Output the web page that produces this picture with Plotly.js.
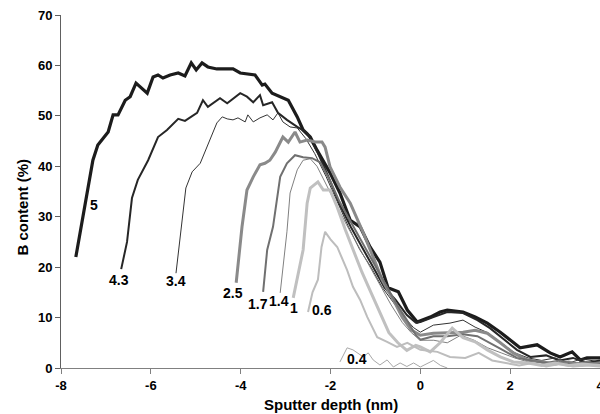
<!DOCTYPE html>
<html><head><meta charset="utf-8">
<script src="https://cdn.plot.ly/plotly-3.0.1.min.js"></script>
<style>html,body{margin:0;padding:0;background:#fff;}#chart{width:600px;height:414px;}</style>
</head><body><div id="chart"></div>
<script>
const labels = ["5","4.3","3.4","2.5","1.7","1.4","1","0.6","0.4"];

const x5 = [-7.67,-7.4,-7.29,-7.18,-6.95,-6.84,-6.73,-6.57,-6.46,-6.33,-6.08,-5.95,-5.84,-5.73,-5.57,-5.39,-5.24,-5.1,-4.99,-4.86,-4.73,-4.53,-4.17,-4.01,-3.68,-3.52,-3.46,-3.3,-3.12,-2.94,-2.74,-2.61,-2.45,-2.3,-2.01,-1.79,-1.56,-1.34,-1.12,-0.9,-0.72,-0.49,-0.29,-0.07,0.22,0.44,0.6,0.95,1.22,1.49,1.78,2.0,2.22,2.6,2.89,3.11,3.38,3.56,3.71,4.0];
const y5 = [22,36,41.2,44.2,46.8,50.2,50.2,53.1,53.8,56.5,54.5,57.7,58.1,57.5,58.1,58.5,57.9,60.5,59.1,60.5,59.7,59.3,59.3,58.5,58.1,56.1,56.3,54.5,53.8,53.1,49.8,47.2,45.8,43.2,38.7,34.7,29.3,28,24,21,15.9,15.1,11.5,9.1,10.1,11.1,11.5,11.1,10.1,8.9,7.1,5.6,4.0,4.6,3.0,2.2,3.2,1.6,2.0,2.0];

const x43 = [-6.66,-6.53,-6.42,-6.29,-6.06,-5.84,-5.64,-5.39,-5.24,-4.97,-4.84,-4.73,-4.46,-4.3,-4.01,-3.86,-3.72,-3.57,-3.5,-3.3,-3.17,-2.97,-2.74,-2.52,-2.3,-2.05,-1.8,-1.55,-1.3,-1.05,-0.8,-0.55,-0.3,-0.1,0.0,0.29,0.6,0.95,1.27,1.55,1.84,2.15,2.45,2.8,3.1,3.4,3.7,4.0];
const y43 = [19.6,25,33.7,37.3,41.2,45.8,47.2,49.4,49.0,50.6,53.1,51.8,53.5,52.5,54.5,53.8,52.7,54.1,52.1,52.7,50.6,49.2,47.8,46.6,43,38,32.5,28,24,20,16,13.5,10.5,9,9.1,10.1,11.1,10.9,9.5,7.9,5.9,3.6,2.2,2.5,1.5,2.0,1.0,1.5];

const x34 = [-5.44,-5.22,-5.08,-4.9,-4.53,-4.41,-4.3,-4.17,-4.06,-3.9,-3.84,-3.72,-3.57,-3.41,-3.28,-3.17,-3.06,-2.9,-2.74,-2.55,-2.35,-2.1,-1.85,-1.6,-1.35,-1.1,-0.85,-0.6,-0.35,-0.15,0.0,0.29,0.66,0.95,1.22,1.5,1.8,2.1,2.4,2.7,3.0,3.3,3.6,4.0];
const y34 = [18.8,35.7,38.9,40.6,48.6,49.8,49.4,49.2,49.6,48.8,50.2,48.8,49.6,50.2,49.2,50.6,48.8,47.8,47.6,45.5,42.5,38,33,28,23.5,20,16,13,10,8,7.1,8.5,8.9,9.5,8.1,7,5,3,2,1.5,2.0,1.0,1.8,1.2];

const x25 = [-4.1,-3.97,-3.86,-3.72,-3.57,-3.46,-3.35,-3.23,-3.06,-2.94,-2.79,-2.68,-2.52,-2.34,-2.19,-2.12,-2.01,-1.79,-1.56,-1.39,-1.27,-1.05,-0.85,-0.6,-0.4,-0.2,0.0,0.29,0.6,0.95,1.22,1.49,1.78,2.07,2.38,2.7,3.0,3.3,3.6,4.0];
const y25 = [16.9,28,35.3,37.9,40.3,40.6,41.2,42.8,45.8,44.8,46.8,44.8,45.2,44.8,44.8,43.8,39.9,35.9,32.7,29.3,26.8,22,17.5,13.5,10,7.5,6.5,6.9,7.0,7.1,7.5,6.9,5.0,3.0,1.6,1.2,0.8,1.2,0.6,1.0];

const x17 = [-3.5,-3.41,-3.28,-3.23,-3.12,-2.97,-2.79,-2.61,-2.41,-2.23,-2.0,-1.8,-1.55,-1.3,-1.05,-0.8,-0.55,-0.3,-0.1,0.0,0.29,0.6,0.95,1.27,1.55,1.85,2.15,2.5,2.8,3.1,3.4,3.7,4.0];
const y17 = [15.1,23.4,28,31.3,37.9,40.6,42.2,41.8,41.6,40.8,37,33,29,25,21,17,13,9.5,6.5,5.6,6.3,6.3,6.7,6.3,5,3.5,2,1.5,1.0,1.5,0.8,1.2,0.8];

const x14 = [-3.12,-3.01,-2.97,-2.9,-2.74,-2.61,-2.45,-2.3,-2.1,-1.9,-1.65,-1.4,-1.15,-0.9,-0.65,-0.4,-0.2,0.0,0.3,0.6,0.9,1.2,1.5,1.8,2.1,2.4,2.7,3.0,3.3,3.6,4.0];
const y14 = [14.9,23.4,27,34.7,39.3,41.2,41.5,40,36.5,33,28.5,24.5,20.5,16.5,12.5,9,7.0,5.5,5.5,5.0,6.5,5.5,4.0,3.0,2.0,1.2,1.5,0.8,1.2,0.5,1.0];

const x1 = [-2.83,-2.68,-2.61,-2.52,-2.45,-2.28,-2.16,-2.01,-1.85,-1.67,-1.5,-1.3,-1.1,-0.9,-0.7,-0.5,-0.3,-0.1,0.0,0.22,0.44,0.71,0.95,1.22,1.49,1.78,2.07,2.4,2.7,3.0,3.3,3.6,4.0];
const y1 = [13.9,20,23.4,32.7,35.7,36.9,35.3,35.3,31.9,27.4,23.5,19,15,11,7,5,3.5,4.5,4.2,3.2,5.0,7.9,6.0,5.2,3.6,2.2,1.2,1.0,0.5,1.0,0.5,0.8,0.5];

const x06 = [-2.5,-2.4,-2.28,-2.2,-2.12,-2.0,-1.85,-1.63,-1.5,-1.34,-1.18,-0.96,-0.74,-0.52,-0.29,-0.1,0.0,0.38,0.66,1.0,1.3,1.6,1.9,2.2,2.5,2.8,3.1,3.4,3.7,4.0];
const y06 = [11.1,15,17.5,24,27,25.5,24,19.4,16.1,13.5,10.1,6.1,5.2,4.2,5,4,3.6,3.2,2.2,2.0,3.0,1.5,1.0,0.5,1.0,0.3,0.8,0.3,0.5,0.3];

const x04 = [-1.79,-1.63,-1.5,-1.27,-1.16,-1.05,-0.9,-0.74,-0.6,-0.45,-0.3,-0.15,0.0,0.15,0.29,0.45,0.6];
const y04 = [1.2,4.0,3.6,2.2,3.0,1.6,0.6,1.6,0.2,1.0,0.3,1.0,0.2,0.8,1.5,0.5,0];

// label anchor positions (data units)
const labelX = [-7.27,-6.71,-5.44,-4.17,-3.62,-3.14,-2.81,-2.19,-1.42];
const labelY = [32.3,17.4,17.3,14.9,12.6,13.2,11.8,11.6,1.8];

const series = [
  [x5,y5,'#1c1c1c',3.2],
  [x43,y43,'#262626',2],
  [x34,y34,'#333333',1],
  [x25,y25,'#8a8a8a',3],
  [x17,y17,'#707070',2],
  [x14,y14,'#808080',1],
  [x1,y1,'#c0c0c0',3],
  [x06,y06,'#bdbdbd',2],
  [x04,y04,'#a8a8a8',1]
];

const FONT = 'Liberation Sans, Arial, sans-serif';

const traces = series.map((s,i)=>({
  x: s[0], y: s[1], type:'scatter', mode:'lines', name: labels[i],
  line:{color:s[2], width:s[3]}, hoverinfo:'skip'
}));

const annotations = labels.map((t,i)=>({
  x: labelX[i], y: labelY[i], xref:'x', yref:'y', text: t, showarrow:false,
  font:{family:FONT, size:14, color:'#000', weight:'bold'}
}));
annotations.push({
  xref:'paper', yref:'paper', x:0.5, y:-0.102, yanchor:'middle', xanchor:'center',
  text:'Sputter depth (nm)', showarrow:false,
  font:{family:FONT, size:15, color:'#000', weight:'bold'}
});
annotations.push({
  xref:'paper', yref:'paper', x:-0.072, y:0.455, xanchor:'center', yanchor:'middle',
  text:'B content (%)', textangle:-90, showarrow:false,
  font:{family:FONT, size:15, color:'#000', weight:'bold'}
});

const layout = {
  width:600, height:414,
  margin:{l:61, r:0, t:15, b:46},
  paper_bgcolor:'#fff', plot_bgcolor:'#fff',
  showlegend:false,
  font:{family:FONT, color:'#000'},
  xaxis:{
    range:[-8,4], tickvals:[-8,-6,-4,-2,0,2,4], ticktext:['-8','-6','-4','-2','0','2','4'],
    showgrid:false, zeroline:false, showline:true, linecolor:'#808080', linewidth:1,
    ticks:'outside', ticklen:5, tickcolor:'#808080', ticklabeloverflow:'allow',
    tickfont:{size:13, weight:'bold', family:FONT}
  },
  yaxis:{
    range:[0,70], tickvals:[0,10,20,30,40,50,60,70],
    showgrid:false, zeroline:false, showline:true, linecolor:'#606060', linewidth:1,
    ticks:'outside', ticklen:5, tickcolor:'#606060',
    tickfont:{size:13, weight:'bold', family:FONT}
  },
  annotations: annotations
};

Plotly.newPlot('chart', traces, layout, {staticPlot:true, displayModeBar:false});
</script></body></html>
